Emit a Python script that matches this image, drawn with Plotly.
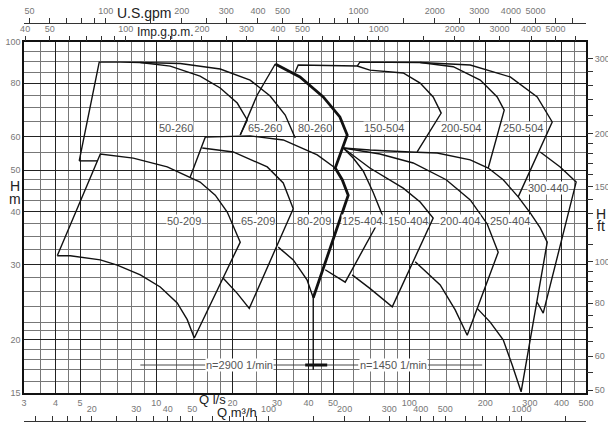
import numpy as np
import plotly.graph_objects as go

# ---------------- axis values ----------------
Q_LABELS = [3, 4, 5, 10, 20, 30, 40, 50, 100, 200, 300, 400, 500]
Q_MINOR = [3.5, 4.5, 6, 7, 8, 9, 12, 14, 16, 18, 25, 35, 45, 60, 70, 80, 90,
           120, 140, 160, 180, 250, 350, 450]
H_LABELS = [15, 20, 30, 40, 50, 60, 80, 100]
H_MINOR = [16, 17, 18, 19, 21, 22, 24, 26, 28, 32.5, 35, 37.5, 42.5, 45, 47.5,
           55, 65, 70, 75, 85, 90, 95]
FT_LABELS = [50, 60, 80, 100, 150, 200, 300]
FT_MINOR = [55, 65, 70, 75, 85, 90, 95, 110, 120, 130, 140, 160, 170, 180, 190,
            220, 240, 260, 280]
USGPM_LABELS = [50, 100, 200, 300, 400, 500, 1000, 2000, 3000, 4000, 5000]
USGPM_MINOR = [60, 70, 80, 90, 150, 250, 600, 700, 800, 900, 1500, 2500, 6000, 7000]
IMPGPM_LABELS = [40, 50, 100, 200, 300, 400, 500, 1000, 2000, 3000, 4000, 5000]
IMPGPM_MINOR = [60, 70, 80, 90, 150, 250, 600, 700, 800, 900, 1500, 2500, 6000]
M3H_LABELS = [20, 30, 40, 50, 100, 200, 300, 400, 500, 1000]
M3H_MINOR = [12, 14, 16, 18, 25, 35, 45, 60, 70, 80, 90, 150, 250, 350, 450,
             600, 700, 800, 900, 1500]

LS_TO_USGPM = 15.850
LS_TO_IMPGPM = 13.198
LS_TO_M3H = 3.6
M_TO_FT = 3.2808
Q_MIN, Q_MAX = 3, 500
H_MIN, H_MAX = 15, 100

# ---------------- pump envelopes (Q in l/s, H in m) ----------------
P50_260_Q = [4.96, 5.95, 7.2, 8.65, 11.36, 14.9, 17.9, 20.9, 22.9, 21.48, None, 4.96, 5.85]
P50_260_H = [52.6, 89.7, 89.7, 89.5, 87.8, 83.2, 78.0, 71.9, 65.6, 60.5, None, 52.6, 52.6]

P65_260_Q = [8.65, 12.44, 17.9, 23.5, 28.2, 32.35, 35.43, None, 21.48, 25.07, 29.54]
P65_260_H = [89.5, 89.0, 86.4, 81.4, 74.7, 67.4, 59.5, None, 60.5, 75.1, 88.8]

BOUNDARY_Q = [29.54, 37.0, 45.73, 53.2, 56.88, 51.0, 54.35, 57.4, 41.75]
BOUNDARY_H = [88.8, 82.8, 74.3, 66.7, 60.5, 50.6, 47.5, 43.7, 25.1]

P80_209_Q = [13.62, 15.62, 23.5, 31.77, 43.3, 51.0, None, 30.35, 34.8, 39.5, 41.75, 41.75]
P80_209_H = [48.2, 59.8, 60.2, 58.9, 54.3, 50.6, None, 33.0, 30.8, 27.6, 25.1, 17.0]

P65_209_Q = [15.2, 20.15, 27.47, 31.77, 34.8, 23.32, 20.9, 18.4]
P65_209_H = [56.4, 55.2, 50.9, 46.7, 40.6, 23.7, 25.7, 27.9]

P50_209_Q = [4.06, 6.01, 8.11, 11.05, 14.9, 17.11, 19.08, 21.48, 14.14, 13.26, 12.1,
             10.37, 8.65, 7.01, 6.01, 4.57, 4.06]
P50_209_H = [31.5, 54.6, 53.4, 50.9, 46.9, 43.7, 39.9, 33.9, 20.2, 22.3, 24.4,
             26.6, 28.4, 29.95, 30.8, 31.5, 31.5]

P125_404_Q = [54.85, 60.07, 65.8, 72.0, 78.2, 55.85, 46.56]
P125_404_H = [56.4, 53.4, 49.8, 44.4, 39.3, 27.3, 29.2]

P150_404_Q = [54.85, 69.9, 94.7, 110.5, 124.4, 85.7, 69.9, 59.5]
P150_404_H = [56.4, 50.6, 45.4, 42.1, 38.6, 23.9, 26.4, 28.4]

P200_404_Q = [54.85, 76.6, 103.7, 140.0, 174.3, 203.4, 224.8, 169.6, 152.0, 132.6, 105.6]
P200_404_H = [56.4, 54.6, 52.0, 47.5, 42.6, 37.4, 32.1, 20.5, 23.5, 26.9, 30.5]

P250_404_Q = [54.85, 69.9, 100.9, 129.0, 174.3, 205.3, 235.3, 269.7, 300.8, 329.6, 351.3,
              277.0, 255.4, 235.3, 209.0, 185.7]
P250_404_H = [56.4, 55.8, 55.2, 54.9, 52.9, 50.6, 47.5, 43.3, 39.7, 36.6, 33.9,
              15.1, 17.45, 20.0, 22.0, 23.7]

P300_440_Q = [329.6, 395.3, 457.1, 338.7, 320.7]
P300_440_H = [55.2, 50.9, 46.9, 23.1, 24.5]

P150_504_Q = [35.43, 36.41, 62.3, 69.9, 94.7, 110.5, 124.4, 133.8, 107.5]
P150_504_H = [85.0, 88.3, 87.8, 85.9, 84.6, 80.1, 74.3, 68.1, 55.2]

P200_504_Q = [62.3, 63.8, 110.5, 149.3, 190.9, 222.8, 237.5, 205.3]
P200_504_H = [87.8, 89.7, 89.5, 87.5, 81.4, 74.3, 69.2, 50.6]

P250_504_Q = [110.5, 174.3, 250.8, 320.7, 367.6, 269.7]
P250_504_H = [89.5, 88.3, 82.8, 74.3, 64.9, 43.3]

# speed indicator line
SPEED_Q = [8.65, 15.62, None, 29.0, 62.85, None, 118.9, 194.3]
SPEED_H = [17.45, 17.45, None, 17.45, 17.45, None, 17.45, 17.45]
MARK_Q = [38.8, 47.4]
MARK_H = [17.45, 17.45]

LABEL_NAMES = ["50-260", "65-260", "80-260", "150-504", "200-504", "250-504",
               "50-209", "65-209", "80-209", "125-404", "150-404", "200-404",
               "250-404", "300-440"]
LABEL_Q = [11.94, 26.97, 42.32, 79.6, 160.6, 281.0, 12.9, 25.19, 42.1, 65.2, 99.1,
           159.1, 250.8, 352.8]
LABEL_H = [62.8, 62.8, 62.8, 62.8, 62.8, 62.8, 38.0, 38.0, 38.0, 38.0, 38.0, 38.0,
           38.0, 45.4]
SPEED_LABELS = ["n=2900 1/min", "n=1450 1/min"]
SPEED_LABEL_Q = [21.3, 86.5]

# ---------------- figure ----------------
W, HGT = 608, 422
ML, MR = 24, 22
PLOT_TOP, PLOT_BOT = 42, 393
FAM = "Liberation Sans, Arial, sans-serif"
TICK_FONT = dict(family=FAM, size=9, color="#777")
LINE_C = "#111"

fig = go.Figure()


def add_line(q, h, width=1.4, color=LINE_C):
    fig.add_trace(go.Scatter(x=q, y=h, mode="lines", line=dict(color=color, width=width),
                             hoverinfo="skip", showlegend=False, connectgaps=False))


for q, h in [(P50_260_Q, P50_260_H), (P65_260_Q, P65_260_H), (P80_209_Q, P80_209_H),
             (P65_209_Q, P65_209_H), (P50_209_Q, P50_209_H), (P125_404_Q, P125_404_H),
             (P150_404_Q, P150_404_H), (P200_404_Q, P200_404_H), (P250_404_Q, P250_404_H),
             (P300_440_Q, P300_440_H), (P150_504_Q, P150_504_H), (P200_504_Q, P200_504_H),
             (P250_504_Q, P250_504_H)]:
    add_line(q, h)
add_line(BOUNDARY_Q, BOUNDARY_H, width=2.8)
add_line(SPEED_Q, SPEED_H, width=0.9, color="#333")
add_line(MARK_Q, MARK_H, width=3)

# dummy traces to activate the secondary axes
for xa, ya in [("x2", "y"), ("x3", "y"), ("x4", "y"), ("x", "y2")]:
    fig.add_trace(go.Scatter(x=[None], y=[None], xaxis=xa, yaxis=ya, mode="lines",
                             showlegend=False, hoverinfo="skip"))

ydom = [(HGT - PLOT_BOT) / HGT, (HGT - PLOT_TOP) / HGT]


def arr(labels, minors):
    return labels + minors, [str(v) for v in labels] + [""] * len(minors)


ft_vals, ft_text = arr(FT_LABELS, FT_MINOR)
us_vals, us_text = arr(USGPM_LABELS, USGPM_MINOR)
imp_vals, imp_text = arr(IMPGPM_LABELS, IMPGPM_MINOR)
m3_vals, m3_text = arr(M3H_LABELS, M3H_MINOR)

common = dict(type="log", zeroline=False, automargin=False, fixedrange=True,
              tickfont=TICK_FONT, tickangle=0)

fig.update_layout(
    width=W, height=HGT, template="none",
    margin=dict(l=ML, r=MR, t=0, b=0, pad=0),
    plot_bgcolor="white", paper_bgcolor="white", showlegend=False,
    xaxis=dict(range=[np.log10(Q_MIN), np.log10(Q_MAX)], domain=[0, 1], anchor="y",
               tickmode="array", tickvals=Q_LABELS, ticktext=[str(v) for v in Q_LABELS],
               ticks="", ticklen=0, showgrid=True, gridcolor="#222", gridwidth=1.2,
               minor=dict(tickmode="array", tickvals=Q_MINOR, showgrid=True,
                          gridcolor="#777", gridwidth=0.8, ticks=""),
               showline=True, linecolor=LINE_C, linewidth=1.5, mirror=True, **common),
    yaxis=dict(range=[np.log10(H_MIN), np.log10(H_MAX)], domain=ydom, anchor="x",
               tickmode="array", tickvals=H_LABELS, ticktext=[str(v) for v in H_LABELS],
               ticks="", ticklen=0, showgrid=True, gridcolor="#222", gridwidth=1.2,
               minor=dict(tickmode="array", tickvals=H_MINOR, showgrid=True,
                          gridcolor="#777", gridwidth=0.8, ticks=""),
               showline=True, linecolor=LINE_C, linewidth=1.5, mirror=True, **common),
    yaxis2=dict(range=[np.log10(H_MIN * M_TO_FT), np.log10(H_MAX * M_TO_FT)],
                overlaying="y", side="right", anchor="x", tickmode="array",
                tickvals=ft_vals, ticktext=ft_text, ticks="outside", ticklen=6,
                tickcolor="#333", tickwidth=1, showgrid=False, showline=False, **common),
    xaxis2=dict(range=[np.log10(Q_MIN * LS_TO_USGPM), np.log10(Q_MAX * LS_TO_USGPM)],
                overlaying="x", side="top", anchor="free", position=(HGT - 23) / HGT,
                tickmode="array", tickvals=us_vals, ticktext=us_text, ticks="outside",
                ticklen=5, tickcolor="#333", showgrid=False, showline=True,
                linecolor="#333", linewidth=1, **common),
    xaxis3=dict(range=[np.log10(Q_MIN * LS_TO_IMPGPM), np.log10(Q_MAX * LS_TO_IMPGPM)],
                overlaying="x", side="top", anchor="y",
                tickmode="array", tickvals=imp_vals, ticktext=imp_text, ticks="outside",
                ticklen=5, tickcolor="#333", showgrid=False, showline=False, **common),
    xaxis4=dict(range=[np.log10(Q_MIN * LS_TO_M3H), np.log10(Q_MAX * LS_TO_M3H)],
                overlaying="x", side="top", anchor="free", position=(HGT - 420.5) / HGT,
                tickmode="array", tickvals=m3_vals, ticktext=m3_text, ticks="outside",
                ticklen=5, tickcolor="#333", showgrid=False, showline=True,
                linecolor="#333", linewidth=1, **common),
)

ann = []
for name, q, h in zip(LABEL_NAMES, LABEL_Q, LABEL_H):
    ann.append(dict(x=np.log10(q), y=np.log10(h), xref="x", yref="y", text=name,
                    showarrow=False, bgcolor="white", borderpad=0,
                    font=dict(family=FAM, size=11, color="#555")))
for name, q in zip(SPEED_LABELS, SPEED_LABEL_Q):
    ann.append(dict(x=np.log10(q), y=np.log10(17.45), xref="x", yref="y", text=name,
                    showarrow=False, bgcolor="white", borderpad=0,
                    font=dict(family=FAM, size=11, color="#555")))


def px(xp):
    return (xp - ML) / (W - ML - MR)


def py(yp):
    return (HGT - yp) / HGT


for text, x, y, size in [("U.S.gpm", 144, 13, 14), ("Imp.g.p.m.", 165, 32, 12),
                         ("Q l/s", 212, 399, 13), ("Q m³/h", 237, 412, 13),
                         ("H", 15, 186, 14), ("m", 15, 199, 14),
                         ("H", 601, 214, 14), ("ft", 601, 226, 14)]:
    ann.append(dict(x=px(x), y=py(y), xref="paper", yref="paper", text=text,
                    showarrow=False, xanchor="center", yanchor="middle",
                    font=dict(family=FAM, size=size, color="#222")))

fig.update_layout(annotations=ann)
fig.write_html("out.html", config={"displayModeBar": False},
               post_script="document.body.style.margin='0px';"
                           "document.body.style.overflow='hidden';")
